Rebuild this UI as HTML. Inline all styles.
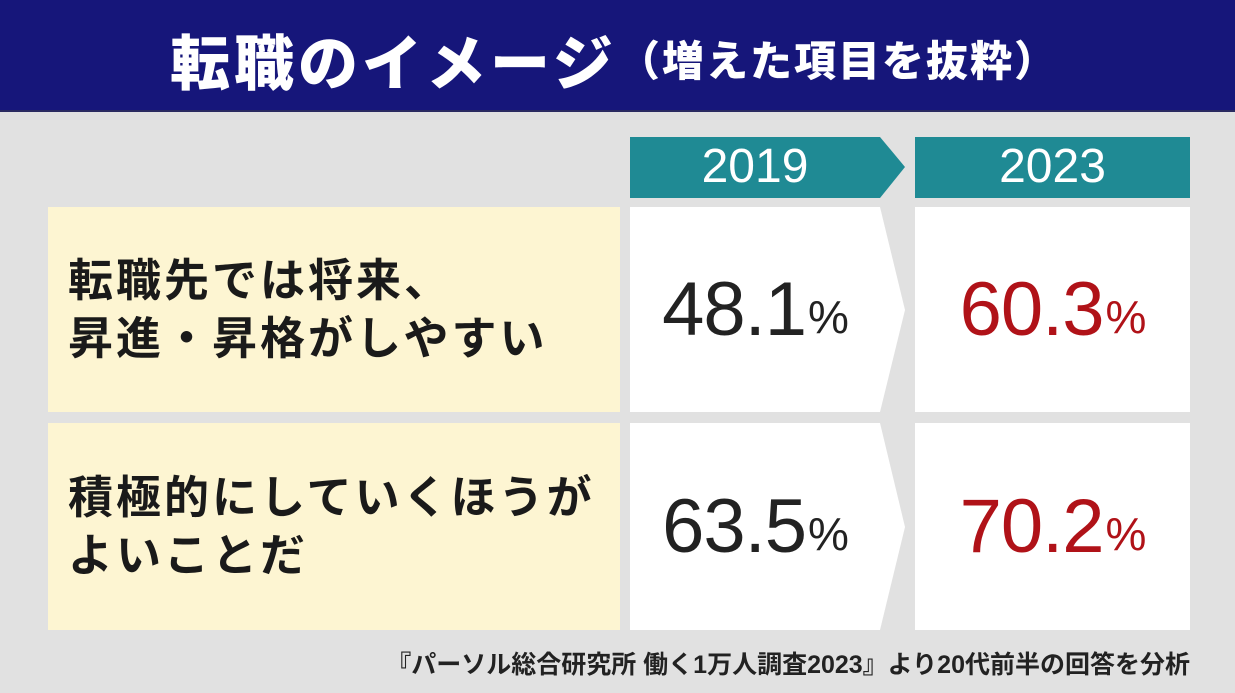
<!DOCTYPE html>
<html><head><meta charset="utf-8">
<style>
body{margin:0;width:1235px;height:693px;background:#e1e1e1;overflow:hidden;font-family:"Liberation Sans","Noto Sans CJK JP",sans-serif;position:relative}
.abs{position:absolute}
#title-bar{left:0;top:0;width:1235px;height:110px;background:#16167a;border-bottom:2px solid #2a2a60}
.t{color:#fff;font-weight:900;white-space:nowrap}
.label{background:#fdf5d2;left:48px;width:572px;font-size:45px;letter-spacing:3px;font-weight:bold;color:#1a1a1a;line-height:58px;padding-left:20px;box-sizing:border-box;display:flex;align-items:center;white-space:nowrap}
.val{font-size:76px;font-weight:500;display:flex;align-items:center;justify-content:center;letter-spacing:-1px}
.val small{font-size:46px;margin-left:2px;margin-top:14px}
</style></head><body>
<div id="title-bar" class="abs">
  <div class="abs t" style="left:170px;top:16px;font-size:60px;letter-spacing:4px">転職のイメージ</div>
  <div class="abs t" style="left:618px;top:28px;font-size:42px;letter-spacing:2px">（増えた項目を抜粋）</div>
</div>
<svg class="abs" style="left:0;top:0" width="1235" height="693">
  <polygon points="630,137 880,137 905,167 880,198 630,198" fill="#1f8a94"/>
  <rect x="915" y="137" width="275" height="61" fill="#1f8a94"/>
  <polygon points="630,207 880,207 905,310 880,412 630,412" fill="#fff"/>
  <rect x="915" y="207" width="275" height="205" fill="#fff"/>
  <polygon points="630,423 880,423 905,527 880,630 630,630" fill="#fff"/>
  <rect x="915" y="423" width="275" height="207" fill="#fff"/>
</svg>
<div class="abs t" style="left:630px;top:139px;width:250px;text-align:center;font-size:48px;font-weight:500">2019</div>
<div class="abs t" style="left:915px;top:139px;width:275px;text-align:center;font-size:48px;font-weight:500">2023</div>
<div id="rows"></div>
<div class="abs" style="right:45px;top:645px;font-size:25px;font-weight:bold;color:#222;white-space:nowrap">『パーソル総合研究所 働く1万人調査2023』より20代前半の回答を分析</div>
<script>
const items = ["転職先では将来、<br>昇進・昇格がしやすい","積極的にしていくほうが<br>よいことだ"];
const values2019 = [48.1, 63.5];
const values2023 = [60.3, 70.2];
const rowTops=[207,423], rowH=[205,207];
const root=document.getElementById('rows');
items.forEach((lab,i)=>{
  const l=document.createElement('div');
  l.className='abs label';
  
  
  l.style.top=rowTops[i]+'px';l.style.height=rowH[i]+'px';
  l.innerHTML='<div>'+lab+'</div>';
  root.appendChild(l);
  const a=document.createElement('div');
  a.className='abs val';
  
  
  a.style.cssText+='left:630px;width:250px;color:#222;top:'+rowTops[i]+'px;height:'+rowH[i]+'px';
  a.innerHTML=values2019[i].toFixed(1)+'<small>%</small>';
  root.appendChild(a);
  const b=document.createElement('div');
  b.className='abs val';
  
  
  b.style.cssText+='left:915px;width:275px;color:#b01218;top:'+rowTops[i]+'px;height:'+rowH[i]+'px';
  b.innerHTML=values2023[i].toFixed(1)+'<small>%</small>';
  root.appendChild(b);
});
</script>
</body></html>
